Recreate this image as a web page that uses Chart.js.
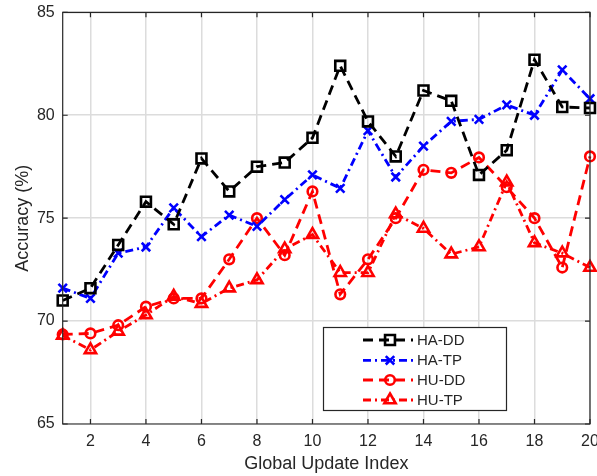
<!DOCTYPE html>
<html>
<head>
<meta charset="utf-8">
<script src="https://cdn.jsdelivr.net/npm/chart.js@4.4.1/dist/chart.umd.min.js"></script>
<style>
  html, body { margin: 0; padding: 0; background: #fff; overflow: hidden; width: 597px; height: 476px; }
  canvas { display: block; }
</style>
</head>
<body>
<canvas id="acc" width="610" height="476"></canvas>
<script>
// Global update rounds and test accuracy (%) of each scheme
const updateIndex = [1, 2, 3, 4, 5, 6, 7, 8, 9, 10, 11, 12, 13, 14, 15, 16, 17, 18, 19, 20];
const haDD = [71.0, 71.6, 73.7, 75.8, 74.7, 77.9, 76.3, 77.5, 77.7, 78.9, 82.4, 79.7, 78.0, 81.2, 80.7, 77.1, 78.3, 82.7, 80.4, 80.35];
const haTP = [71.6, 71.1, 73.3, 73.6, 75.5, 74.1, 75.15, 74.6, 75.9, 77.1, 76.45, 79.25, 77.0, 78.5, 79.7, 79.8, 80.5, 80.0, 82.2, 80.8];
const huDD = [69.35, 69.4, 69.8, 70.7, 71.1, 71.1, 73.0, 75.0, 73.2, 76.3, 71.3, 73.0, 75.0, 77.35, 77.2, 77.95, 76.5, 75.0, 72.6, 78.0];
const huTP = [69.3, 68.6, 69.5, 70.3, 71.2, 70.85, 71.6, 72.0, 73.5, 74.2, 72.35, 72.35, 75.2, 74.5, 73.25, 73.6, 76.75, 73.8, 73.3, 72.6];

const xTicks = [2, 4, 6, 8, 10, 12, 14, 16, 18, 20];
const yTicks = [65, 70, 75, 80, 85];

const FONT = '"Liberation Sans", Arial, Helvetica, sans-serif';
const TEXT = '#262626';

function pts(values) {
  return values.map((v, i) => ({ x: updateIndex[i], y: v }));
}

function series(label, values, color, dash, style, radius) {
  return {
    label: label,
    data: pts(values),
    borderColor: color,
    borderWidth: 2.8,
    borderDash: dash,
    pointStyle: style,
    pointRadius: radius,
    pointBorderWidth: 2.6,
    pointBorderColor: color,
    pointBackgroundColor: 'rgba(255,255,255,0)',
    pointHoverRadius: radius,
    tension: 0,
    clip: false
  };
}

// Box around the axes with inward tick marks, plus the boxed legend
const axesBox = {
  id: 'axesBox',
  afterDraw(chart) {
    const ctx = chart.ctx;
    const a = chart.chartArea;
    const xs = chart.scales.x, ys = chart.scales.y;
    ctx.save();
    ctx.strokeStyle = TEXT;
    ctx.lineWidth = 1.2;
    ctx.beginPath();
    ctx.rect(a.left, a.top, a.right - a.left, a.bottom - a.top);
    ctx.stroke();
    const t = 5;
    ctx.beginPath();
    xTicks.forEach(v => {
      const px = xs.getPixelForValue(v);
      ctx.moveTo(px, a.bottom); ctx.lineTo(px, a.bottom - t);
      ctx.moveTo(px, a.top); ctx.lineTo(px, a.top + t);
    });
    yTicks.forEach(v => {
      const py = ys.getPixelForValue(v);
      ctx.moveTo(a.left, py); ctx.lineTo(a.left + t, py);
      ctx.moveTo(a.right, py); ctx.lineTo(a.right - t, py);
    });
    ctx.stroke();

    // legend
    const bx = 323.5, by = 327.5, bw = 183, bh = 83;
    ctx.fillStyle = '#fff';
    ctx.fillRect(bx, by, bw, bh);
    ctx.strokeStyle = TEXT;
    ctx.lineWidth = 1.2;
    ctx.strokeRect(bx, by, bw, bh);
    const rows = [340, 360.3, 380, 400];
    chart.data.datasets.forEach((ds, i) => {
      const y = rows[i];
      ctx.save();
      ctx.strokeStyle = ds.borderColor;
      ctx.lineWidth = ds.borderWidth;
      ctx.setLineDash(ds.borderDash);
      ctx.beginPath();
      ctx.moveTo(363, y); ctx.lineTo(413, y);
      ctx.stroke();
      ctx.restore();
      ctx.save();
      ctx.strokeStyle = ds.pointBorderColor;
      ctx.fillStyle = ds.pointBackgroundColor;
      ctx.lineWidth = ds.pointBorderWidth;
      Chart.helpers.drawPoint(ctx, { pointStyle: ds.pointStyle, radius: ds.pointRadius, rotation: 0, borderWidth: ds.pointBorderWidth }, 390, y);
      ctx.restore();
      ctx.fillStyle = TEXT;
      ctx.font = '15px ' + FONT;
      ctx.textBaseline = 'middle';
      ctx.textAlign = 'left';
      ctx.fillText(ds.label, 417, y + 1);
    });
    ctx.restore();
  }
};

new Chart(document.getElementById('acc'), {
  type: 'line',
  data: {
    datasets: [
      series('HA-DD', haDD, '#000000', [10, 6], 'rect', 7),
      series('HA-TP', haTP, '#0000ff', [8, 4, 2, 4], 'crossRot', 6),
      series('HU-DD', huDD, '#ff0000', [10, 6], 'circle', 4.8),
      series('HU-TP', huTP, '#ff0000', [8, 4, 2, 4], 'triangle', 6.5)
    ]
  },
  options: {
    responsive: false,
    animation: false,
    events: [],
    layout: { padding: { left: 0, right: 20, top: 12.3, bottom: 0 } },
    plugins: { legend: { display: false }, tooltip: { enabled: false } },
    scales: {
      x: {
        type: 'linear',
        min: 1,
        max: 20,
        afterBuildTicks: s => { s.ticks = xTicks.map(v => ({ value: v })); },
        afterFit: s => { s.height = 52; s.paddingLeft = 0; s.paddingRight = 0; },
        grid: { color: '#dcdcdc', lineWidth: 1.5, drawTicks: false },
        border: { display: false },
        ticks: { color: TEXT, font: { family: FONT, size: 16 }, padding: 8, maxRotation: 0, autoSkip: false },
        title: { display: true, text: 'Global Update Index', color: TEXT, font: { family: FONT, size: 18 }, padding: { top: 0, bottom: 1 } }
      },
      y: {
        min: 65,
        max: 85,
        afterBuildTicks: s => { s.ticks = yTicks.map(v => ({ value: v })); },
        afterFit: s => { s.width = 62.7; s.paddingTop = 0; s.paddingBottom = 0; },
        grid: { color: '#dcdcdc', lineWidth: 1.5, drawTicks: false },
        border: { display: false },
        ticks: { color: TEXT, font: { family: FONT, size: 16 }, padding: 8 },
        title: { display: true, text: 'Accuracy (%)', color: TEXT, font: { family: FONT, size: 18 }, padding: { top: 12, bottom: 0 } }
      }
    }
  },
  plugins: [axesBox]
});
</script>
</body>
</html>
